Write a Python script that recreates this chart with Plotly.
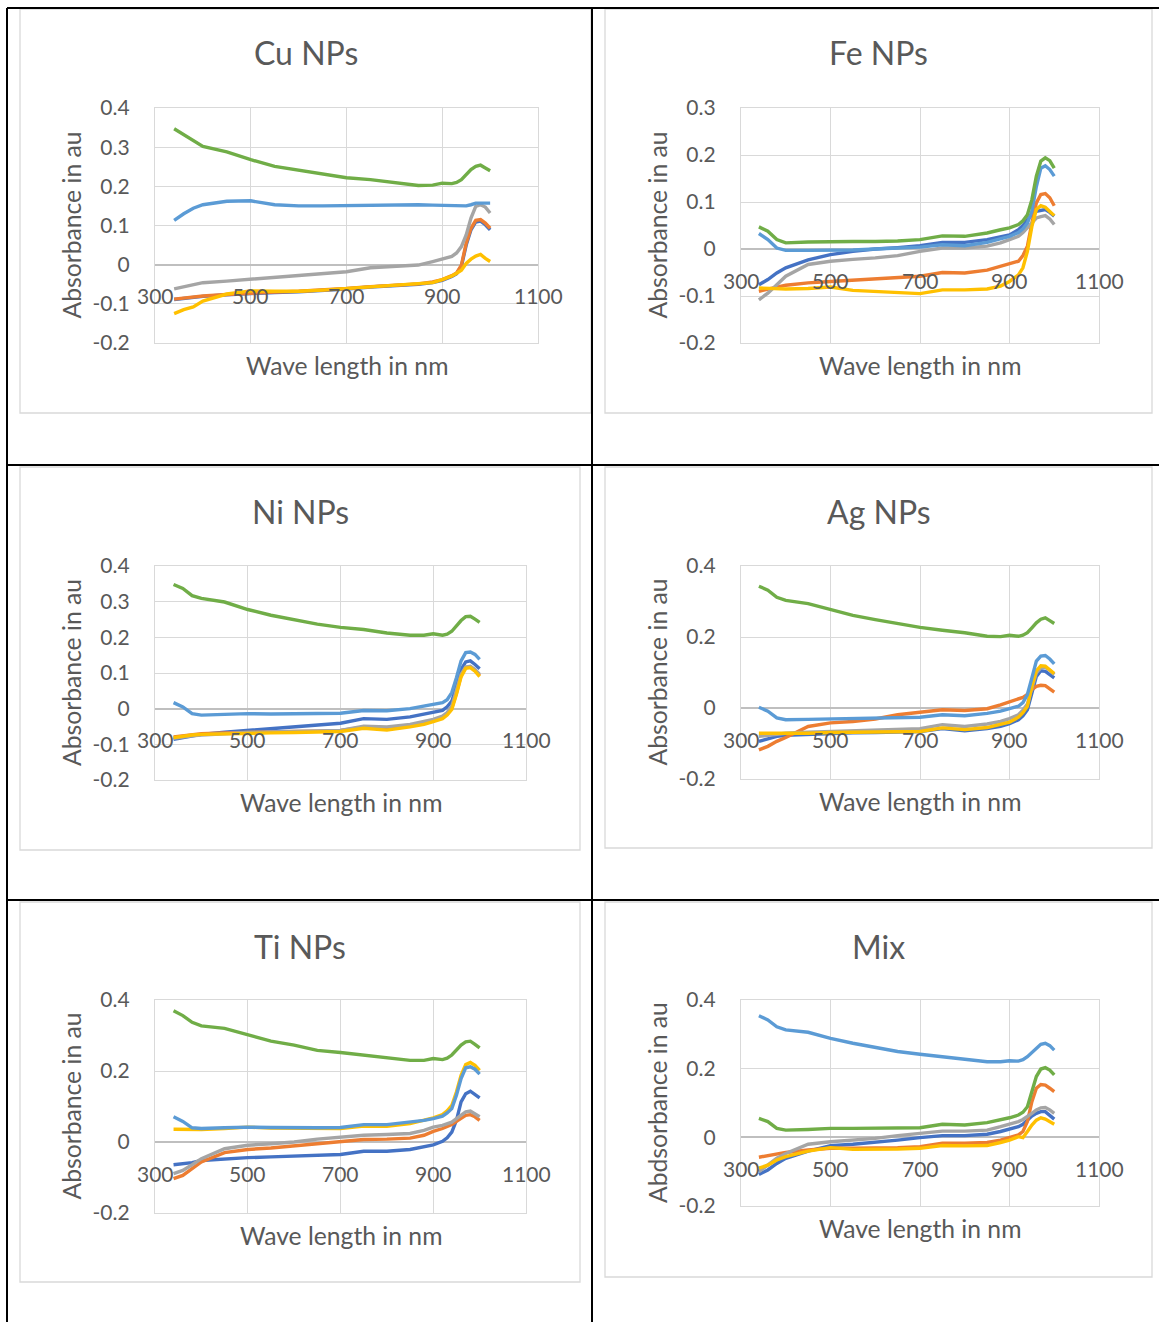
import plotly.graph_objects as go

W, H = 1159, 1322

# Wavelength grid (nm) shared by every spectrum
WAVELENGTH = [340, 360, 380, 400, 450, 500, 550, 600, 650, 700, 750, 800,
              850, 880, 900, 920, 930, 940, 950, 960, 970, 980, 990, 1000]

# ---- Cu NPs ----
CU_1 = [-0.089, -0.086, -0.083, -0.081, -0.077, -0.073, -0.071, -0.069, -0.066, -0.062, -0.057, -0.054,
        -0.050, -0.046, -0.040, -0.030, -0.023, -0.004, 0.050, 0.089, 0.109, 0.111, 0.102, 0.089]
CU_2 = [-0.088, -0.085, -0.082, -0.080, -0.076, -0.072, -0.070, -0.068, -0.065, -0.061, -0.056, -0.052,
        -0.049, -0.044, -0.038, -0.028, -0.021, -0.001, 0.055, 0.093, 0.113, 0.115, 0.106, 0.093]
CU_3 = [-0.062, -0.057, -0.051, -0.046, -0.042, -0.037, -0.033, -0.028, -0.023, -0.018, -0.008, -0.004,
        -0.001, 0.008, 0.014, 0.021, 0.030, 0.046, 0.076, 0.119, 0.149, 0.153, 0.147, 0.132]
CU_4 = [-0.125, -0.115, -0.108, -0.093, -0.075, -0.067, -0.068, -0.068, -0.065, -0.061, -0.056, -0.053,
        -0.050, -0.046, -0.038, -0.029, -0.022, -0.014, 0.003, 0.014, 0.022, 0.026, 0.016, 0.008]
CU_5 = [0.113, 0.130, 0.144, 0.153, 0.162, 0.163, 0.153, 0.150, 0.150, 0.151, 0.152, 0.153,
        0.153, 0.152, 0.151, 0.150, 0.150, 0.150, 0.150, 0.153, 0.157, 0.157, 0.156, 0.157]
CU_6 = [0.347, 0.332, 0.315, 0.302, 0.288, 0.268, 0.251, 0.241, 0.231, 0.222, 0.217, 0.209,
        0.202, 0.203, 0.208, 0.207, 0.210, 0.217, 0.230, 0.243, 0.251, 0.254, 0.247, 0.240]

# ---- Fe NPs ----
FE_1 = [-0.076, -0.065, -0.051, -0.040, -0.023, -0.012, -0.005, 0.000, 0.003, 0.007, 0.014, 0.014,
        0.020, 0.026, 0.030, 0.041, 0.050, 0.062, 0.073, 0.080, 0.082, 0.084, 0.078, 0.070]
FE_2 = [-0.090, -0.085, -0.081, -0.077, -0.072, -0.069, -0.066, -0.064, -0.061, -0.058, -0.050, -0.051,
        -0.045, -0.037, -0.031, -0.026, -0.014, 0.006, 0.055, 0.098, 0.116, 0.118, 0.109, 0.092]
FE_3 = [-0.108, -0.094, -0.076, -0.058, -0.033, -0.026, -0.022, -0.019, -0.014, -0.005, 0.002, 0.002,
        0.006, 0.013, 0.020, 0.027, 0.035, 0.045, 0.055, 0.066, 0.069, 0.071, 0.064, 0.052]
FE_4 = [-0.083, -0.084, -0.084, -0.085, -0.084, -0.081, -0.088, -0.090, -0.092, -0.095, -0.087, -0.087,
        -0.085, -0.079, -0.069, -0.055, -0.040, -0.005, 0.048, 0.084, 0.092, 0.089, 0.080, 0.071]
FE_5 = [0.033, 0.020, 0.002, -0.003, -0.003, -0.003, -0.002, 0.000, 0.002, 0.004, 0.009, 0.007,
        0.014, 0.021, 0.027, 0.035, 0.043, 0.055, 0.080, 0.133, 0.172, 0.177, 0.169, 0.155]
FE_6 = [0.047, 0.038, 0.020, 0.013, 0.015, 0.016, 0.016, 0.016, 0.017, 0.020, 0.028, 0.027,
        0.034, 0.041, 0.045, 0.052, 0.060, 0.073, 0.105, 0.155, 0.187, 0.194, 0.188, 0.172]

# ---- Ni NPs ----
NI_1 = [-0.086, -0.081, -0.076, -0.072, -0.066, -0.061, -0.056, -0.051, -0.046, -0.041, -0.028, -0.030,
        -0.023, -0.016, -0.011, -0.005, 0.005, 0.021, 0.063, 0.110, 0.131, 0.134, 0.124, 0.112]
NI_2 = [-0.079, -0.076, -0.073, -0.070, -0.068, -0.066, -0.065, -0.064, -0.063, -0.061, -0.052, -0.057,
        -0.048, -0.041, -0.033, -0.025, -0.015, 0.002, 0.044, 0.093, 0.115, 0.117, 0.108, 0.093]
NI_3 = [-0.083, -0.079, -0.076, -0.074, -0.070, -0.067, -0.065, -0.064, -0.063, -0.061, -0.049, -0.051,
        -0.044, -0.036, -0.030, -0.021, -0.011, 0.007, 0.049, 0.096, 0.117, 0.119, 0.110, 0.096]
NI_4 = [-0.081, -0.077, -0.074, -0.072, -0.070, -0.069, -0.068, -0.067, -0.066, -0.064, -0.055, -0.060,
        -0.051, -0.044, -0.036, -0.028, -0.018, -0.002, 0.040, 0.089, 0.113, 0.115, 0.105, 0.090]
NI_5 = [0.017, 0.005, -0.014, -0.018, -0.016, -0.014, -0.015, -0.015, -0.014, -0.013, -0.005, -0.006,
        0.000, 0.007, 0.012, 0.017, 0.025, 0.045, 0.087, 0.134, 0.157, 0.159, 0.152, 0.138]
NI_6 = [0.348, 0.337, 0.317, 0.309, 0.299, 0.278, 0.262, 0.249, 0.237, 0.228, 0.222, 0.212,
        0.206, 0.206, 0.210, 0.206, 0.209, 0.217, 0.232, 0.247, 0.258, 0.259, 0.251, 0.242]

# ---- Ag NPs ----
AG_1 = [-0.094, -0.086, -0.080, -0.077, -0.074, -0.071, -0.070, -0.069, -0.068, -0.066, -0.058, -0.064,
        -0.058, -0.052, -0.044, -0.033, -0.022, -0.005, 0.042, 0.089, 0.105, 0.103, 0.094, 0.085]
AG_2 = [-0.118, -0.108, -0.094, -0.083, -0.052, -0.042, -0.038, -0.031, -0.019, -0.011, -0.005, -0.007,
        -0.002, 0.009, 0.017, 0.024, 0.030, 0.038, 0.052, 0.061, 0.064, 0.063, 0.055, 0.045]
AG_3 = [-0.080, -0.077, -0.074, -0.071, -0.068, -0.066, -0.065, -0.064, -0.061, -0.058, -0.047, -0.052,
        -0.045, -0.038, -0.030, -0.019, -0.006, 0.011, 0.056, 0.099, 0.113, 0.115, 0.106, 0.094]
AG_4 = [-0.071, -0.071, -0.072, -0.072, -0.071, -0.069, -0.068, -0.068, -0.067, -0.066, -0.056, -0.061,
        -0.055, -0.047, -0.040, -0.026, -0.013, 0.005, 0.061, 0.105, 0.119, 0.118, 0.108, 0.097]
AG_5 = [0.002, -0.009, -0.028, -0.033, -0.032, -0.031, -0.030, -0.028, -0.027, -0.026, -0.019, -0.022,
        -0.015, -0.009, -0.002, 0.005, 0.015, 0.038, 0.085, 0.132, 0.146, 0.148, 0.138, 0.124]
AG_6 = [0.343, 0.332, 0.312, 0.303, 0.294, 0.277, 0.261, 0.249, 0.237, 0.227, 0.219, 0.212,
        0.202, 0.201, 0.205, 0.202, 0.205, 0.212, 0.226, 0.240, 0.250, 0.254, 0.246, 0.238]

# ---- Ti NPs ----
TI_1 = [-0.064, -0.061, -0.058, -0.052, -0.047, -0.044, -0.042, -0.040, -0.038, -0.035, -0.026, -0.026,
        -0.021, -0.014, -0.008, 0.002, 0.012, 0.028, 0.061, 0.113, 0.136, 0.143, 0.134, 0.124]
TI_2 = [-0.103, -0.094, -0.075, -0.056, -0.030, -0.021, -0.017, -0.011, -0.005, 0.000, 0.007, 0.008,
        0.011, 0.019, 0.030, 0.038, 0.043, 0.049, 0.058, 0.068, 0.075, 0.077, 0.071, 0.061]
TI_3 = [-0.089, -0.080, -0.064, -0.047, -0.019, -0.009, -0.005, 0.000, 0.008, 0.013, 0.019, 0.021,
        0.024, 0.033, 0.042, 0.047, 0.051, 0.056, 0.066, 0.077, 0.085, 0.087, 0.080, 0.071]
TI_4 = [0.036, 0.036, 0.036, 0.035, 0.038, 0.042, 0.039, 0.038, 0.038, 0.038, 0.045, 0.044,
        0.052, 0.061, 0.068, 0.077, 0.088, 0.103, 0.141, 0.188, 0.218, 0.224, 0.216, 0.202]
TI_5 = [0.071, 0.058, 0.040, 0.038, 0.040, 0.042, 0.041, 0.040, 0.040, 0.041, 0.049, 0.049,
        0.055, 0.061, 0.066, 0.073, 0.082, 0.094, 0.132, 0.179, 0.209, 0.212, 0.205, 0.191]
TI_6 = [0.370, 0.356, 0.337, 0.327, 0.320, 0.301, 0.284, 0.273, 0.258, 0.252, 0.244, 0.237,
        0.230, 0.230, 0.235, 0.232, 0.236, 0.245, 0.260, 0.273, 0.282, 0.284, 0.275, 0.265]

# ---- Mix ----
MIX_1 = [-0.108, -0.095, -0.076, -0.061, -0.040, -0.024, -0.020, -0.015, -0.008, -0.001, 0.005, 0.005,
         0.009, 0.017, 0.024, 0.031, 0.038, 0.050, 0.062, 0.070, 0.075, 0.075, 0.065, 0.053]
MIX_2 = [-0.058, -0.054, -0.050, -0.044, -0.037, -0.032, -0.032, -0.032, -0.030, -0.027, -0.017, -0.017,
         -0.015, -0.008, -0.001, 0.007, 0.017, 0.046, 0.104, 0.143, 0.154, 0.152, 0.143, 0.133]
MIX_3 = [-0.100, -0.081, -0.061, -0.047, -0.020, -0.013, -0.008, -0.003, 0.005, 0.012, 0.018, 0.018,
         0.021, 0.031, 0.038, 0.046, 0.052, 0.060, 0.070, 0.080, 0.086, 0.087, 0.080, 0.070]
MIX_4 = [-0.090, -0.081, -0.066, -0.056, -0.040, -0.030, -0.035, -0.035, -0.034, -0.032, -0.024, -0.025,
         -0.024, -0.015, -0.008, 0.002, -0.001, 0.017, 0.036, 0.050, 0.057, 0.053, 0.044, 0.038]
MIX_5 = [0.354, 0.342, 0.322, 0.313, 0.306, 0.288, 0.274, 0.261, 0.250, 0.242, 0.235, 0.228,
         0.220, 0.220, 0.223, 0.222, 0.226, 0.235, 0.248, 0.261, 0.271, 0.274, 0.267, 0.254]
MIX_6 = [0.055, 0.046, 0.026, 0.021, 0.023, 0.026, 0.026, 0.026, 0.027, 0.028, 0.038, 0.036,
         0.043, 0.050, 0.057, 0.065, 0.073, 0.089, 0.133, 0.177, 0.199, 0.203, 0.196, 0.182]

# Axis ticks and labels
X_TICKS = [300, 500, 700, 900, 1100]
X_TICK_TEXT = ["300", "500", "700", "900", "1100"]
Y_TICKS_FINE = [-0.2, -0.1, 0, 0.1, 0.2, 0.3, 0.4]
Y_TICK_TEXT_FINE = ["-0.2", "-0.1", "0", "0.1", "0.2", "0.3", "0.4"]
Y_TICKS_FE = [-0.2, -0.1, 0, 0.1, 0.2, 0.3]
Y_TICK_TEXT_FE = ["-0.2", "-0.1", "0", "0.1", "0.2", "0.3"]
Y_TICKS_COARSE = [-0.2, 0, 0.2, 0.4]
Y_TICK_TEXT_COARSE = ["-0.2", "0", "0.2", "0.4"]

X_TITLE = "Wave length in nm"
SERIES_COLORS = ["#4472C4", "#ED7D31", "#A5A5A5", "#FFC000", "#5B9BD5", "#70AD47"]

TEXT_COLOR = "#595959"
FONT = "Lato"
GRID = "#D9D9D9"

# plot box (left, right, top, bottom) and outer chart frame, both in page pixels
PANELS = [
    dict(title="Cu NPs", ytitle="Absorbance in au", series=[CU_1, CU_2, CU_3, CU_4, CU_5, CU_6],
         yr=(-0.2, 0.4), yt=Y_TICKS_FINE, ytt=Y_TICK_TEXT_FINE,
         plot=(155, 538, 108, 343), frame=(20, 591, 9, 413)),
    dict(title="Fe NPs", ytitle="Absorbance in au", series=[FE_1, FE_2, FE_3, FE_4, FE_5, FE_6],
         yr=(-0.2, 0.3), yt=Y_TICKS_FE, ytt=Y_TICK_TEXT_FE,
         plot=(741, 1099, 108, 343), frame=(605, 1152, 9, 413)),
    dict(title="Ni NPs", ytitle="Absorbance in au", series=[NI_1, NI_2, NI_3, NI_4, NI_5, NI_6],
         yr=(-0.2, 0.4), yt=Y_TICKS_FINE, ytt=Y_TICK_TEXT_FINE,
         plot=(155, 526, 566, 780), frame=(20, 580, 467, 850)),
    dict(title="Ag NPs", ytitle="Absorbance in au", series=[AG_1, AG_2, AG_3, AG_4, AG_5, AG_6],
         yr=(-0.2, 0.4), yt=Y_TICKS_COARSE, ytt=Y_TICK_TEXT_COARSE,
         plot=(741, 1099, 566, 779), frame=(605, 1152, 467, 848)),
    dict(title="Ti NPs", ytitle="Absorbance in au", series=[TI_1, TI_2, TI_3, TI_4, TI_5, TI_6],
         yr=(-0.2, 0.4), yt=Y_TICKS_COARSE, ytt=Y_TICK_TEXT_COARSE,
         plot=(155, 526, 1000, 1213), frame=(20, 580, 902, 1282)),
    dict(title="Mix", ytitle="Abdsorbance in au", series=[MIX_1, MIX_2, MIX_3, MIX_4, MIX_5, MIX_6],
         yr=(-0.2, 0.4), yt=Y_TICKS_COARSE, ytt=Y_TICK_TEXT_COARSE,
         plot=(741, 1099, 1000, 1206), frame=(605, 1152, 902, 1277)),
]


def fx(px):
    return px / W


def fy(py):
    return 1 - py / H


fig = go.Figure()
annotations = []
shapes = []
layout = {}

for i, p in enumerate(PANELS):
    n = "" if i == 0 else str(i + 1)
    xa, ya = "x" + n, "y" + n
    left, right, top, bottom = p["plot"]
    fl, fr, ft, fb = p["frame"]

    for k, values in enumerate(p["series"]):
        fig.add_trace(go.Scatter(
            x=WAVELENGTH, y=values, mode="lines", xaxis=xa, yaxis=ya,
            name=f"{p['title']} {k + 1}", showlegend=False,
            line=dict(color=SERIES_COLORS[k], width=3.4),
        ))

    layout["xaxis" + n] = dict(
        domain=[fx(left), fx(right)], anchor=ya, range=[300, 1100], automargin=False,
        tickvals=X_TICKS, showticklabels=False, ticks="",
        showgrid=True, gridcolor=GRID, gridwidth=1.3,
        showline=True, linecolor=GRID, linewidth=1.3, mirror=True, zeroline=False,
    )
    layout["yaxis" + n] = dict(
        domain=[fy(bottom), fy(top)], anchor=xa, range=list(p["yr"]), automargin=False,
        tickvals=p["yt"], ticktext=p["ytt"], ticks="", ticklabelstandoff=20,
        tickfont=dict(family=FONT, size=21, color=TEXT_COLOR),
        showgrid=True, gridcolor=GRID, gridwidth=1.3,
        showline=True, linecolor=GRID, linewidth=1.3, mirror=True,
        zeroline=True, zerolinecolor="#BFBFBF", zerolinewidth=1.6,
    )

    # category labels of the horizontal axis sit just under the zero line
    for tv, tt in zip(X_TICKS, X_TICK_TEXT):
        annotations.append(dict(
            x=tv, y=0, xref=xa, yref=ya, text=tt, showarrow=False,
            xanchor="center", yanchor="middle", yshift=-31,
            font=dict(family=FONT, size=21, color=TEXT_COLOR),
        ))

    # chart title
    annotations.append(dict(
        x=fx((fl + fr) / 2), y=fy(ft + 44), xref="paper", yref="paper",
        text=p["title"], showarrow=False, xanchor="center", yanchor="middle",
        font=dict(family=FONT, size=32, color=TEXT_COLOR),
    ))
    # axis titles
    annotations.append(dict(
        x=fx((left + right) / 2), y=fy(bottom + 22), xref="paper", yref="paper",
        text=X_TITLE, showarrow=False, xanchor="center", yanchor="middle",
        font=dict(family=FONT, size=24.7, color=TEXT_COLOR),
    ))
    annotations.append(dict(
        x=fx(left - 84), y=fy((top + bottom) / 2), xref="paper", yref="paper",
        text=p["ytitle"], showarrow=False, textangle=-90, xanchor="center", yanchor="middle",
        font=dict(family=FONT, size=24.7, color=TEXT_COLOR),
    ))

    # light chart-area frame
    shapes.append(dict(type="rect", xref="paper", yref="paper",
                       x0=fx(fl), x1=fx(fr), y0=fy(fb), y1=fy(ft),
                       line=dict(color=GRID, width=1.3), layer="below"))

# table rules separating the six charts
for y in (8, 465, 900):
    shapes.append(dict(type="line", xref="paper", yref="paper",
                       x0=fx(7), x1=1, y0=fy(y), y1=fy(y),
                       line=dict(color="black", width=2)))
for x in (7, 592):
    shapes.append(dict(type="line", xref="paper", yref="paper",
                       x0=fx(x), x1=fx(x), y0=fy(8), y1=0,
                       line=dict(color="black", width=2)))

fig.update_layout(
    width=W, height=H, margin=dict(l=0, r=0, t=0, b=0, pad=0, autoexpand=False),
    paper_bgcolor="white", plot_bgcolor="white",
    annotations=annotations, shapes=shapes,
    **layout,
)

fig.write_html("out.html")
